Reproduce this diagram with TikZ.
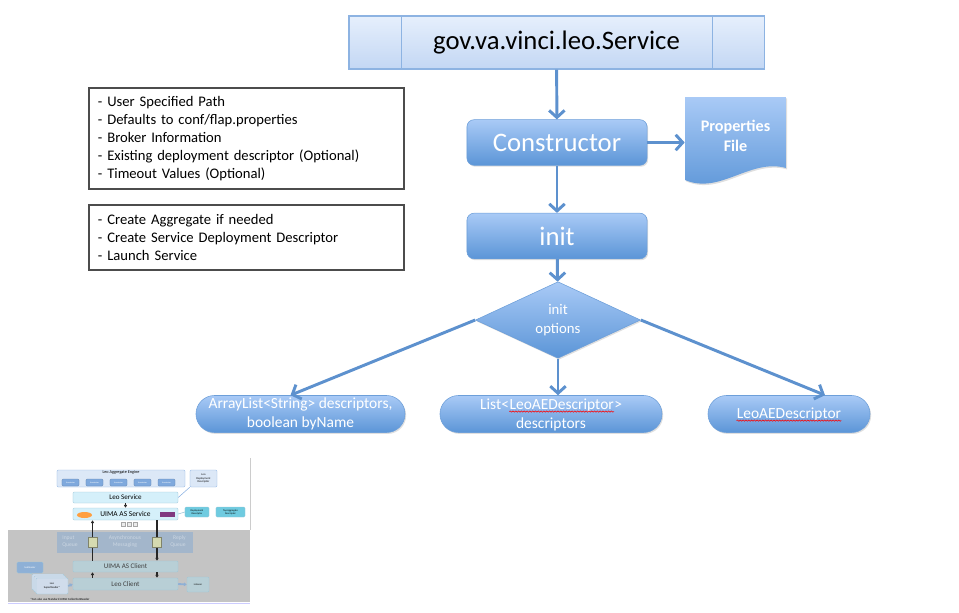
\documentclass[tikz,border=0pt]{standalone}
\usepackage{fontspec}
\setmainfont{Carlito}
\usetikzlibrary{arrows.meta,positioning,calc,shapes.geometric,shapes.misc,shadows,decorations.pathmorphing}

\definecolor{flowblue}{HTML}{5D91CE}
\definecolor{boxtop}{HTML}{A9CAF6}
\definecolor{boxbot}{HTML}{5B95D7}
\definecolor{boxline}{HTML}{6D9FD9}
\definecolor{titletop}{HTML}{E6EFFC}
\definecolor{titlebot}{HTML}{C3D7F4}
\definecolor{titleline}{HTML}{8DB3E2}
\definecolor{aggfill}{HTML}{DCE8F7}
\definecolor{annotfill}{HTML}{7FA9DD}
\definecolor{svcfill}{HTML}{D5F0FA}
\definecolor{svcline}{HTML}{9CC6D8}
\definecolor{descfill}{HTML}{6FCBE0}
\definecolor{msgfill}{HTML}{A3B6CB}
\definecolor{msgtext}{HTML}{CBD6E2}
\definecolor{clientfill}{HTML}{B8CFD6}
\definecolor{queuefill}{HTML}{D5DAB0}
\definecolor{readerfill}{HTML}{8EB0D6}
\definecolor{pagefill}{HTML}{D0DCEB}

\begin{document}
\begin{tikzpicture}[
  x=0.025cm,y=-0.025cm,
  >={Straight Barb[length=5pt,width=11pt]},
  flow/.style={->,line width=2.1pt,draw=flowblue},
  shade/.style={drop shadow={opacity=.25,shadow xshift=.8pt,shadow yshift=-1pt}},
  stagebox/.style={draw=boxline,rounded corners=5pt,top color=boxtop,bottom color=boxbot,text=white,minimum width=4.5cm,minimum height=1.14cm,font=\fontsize{19}{22}\selectfont,shade},
  notebox/.style={draw=black!70,thick,align=left,text width=7.425cm,inner xsep=.225cm,minimum width=7.875cm,font=\fontsize{10.4}{12.8}\selectfont},
  choice/.style={rounded rectangle,draw=boxline,top color=boxtop,bottom color=boxbot,text=white,minimum height=.925cm,align=center,inner sep=0pt,font=\fontsize{11}{13.5}\selectfont,shade},
  word/.style={text=white,inner sep=0pt,font=\fontsize{11}{13.5}\selectfont},
  spell/.style={red,line width=.4pt,decorate,decoration={snake,amplitude=.45pt,segment length=2pt}},
  tbox/.style={draw=black!25,line width=.3pt,rounded corners=.8pt,inner sep=0pt,align=center,font=\fontsize{5}{5.5}\selectfont},
  tarrow/.style={-{Latex[length=2pt,width=2.6pt]},line width=.9pt,black!85},
  feed/.style={-{Latex[length=2pt,width=3pt]},line width=1.3pt,readerfill}
]
  \useasboundingbox (0,0) rectangle (959,612);

  % main flow
  \node[draw=titleline,thick,top color=titletop,bottom color=titlebot,minimum width=10.375cm,minimum height=1.325cm,font=\fontsize{19}{22}\selectfont,shade] (title) at (556.5,42.5) {gov.va.vinci.leo.Service};
  \draw[titleline,thick] ([xshift=1.325cm]title.north west) -- ([xshift=1.325cm]title.south west);
  \draw[titleline,thick] ([xshift=-1.3cm]title.north east) -- ([xshift=-1.3cm]title.south east);

  \node[stagebox] (ctor) at (557,142.5) {Constructor};
  \node[stagebox] (init) at (557,236) {init};
  \node[diamond,draw=boxline,top color=boxtop,bottom color=boxbot,text=white,minimum width=4.125cm,minimum height=1.65cm,inner sep=0pt,align=center,font=\fontsize{10.5}{13.5}\selectfont,shade] (opts) at (558,320) {init\\options};

  \path[top color=boxtop,bottom color=boxbot,shade] (685,97) -- (786,97) -- (786,168) .. controls (750,158) and (720,195) .. (685,180) -- cycle;
  \node[text=white,font=\bfseries\fontsize{11.5}{14.5}\selectfont,align=center,minimum width=2.525cm,minimum height=2cm,inner sep=0pt] (props) at (735.5,136) {Properties\\File};

  \node[choice,minimum width=5.225cm] (desc1) at (300.5,414) {ArrayList<String> descriptors,\\boolean byName};
  \node[choice,minimum width=5.55cm] (desc2) at (551,414) {};
  \node[word,anchor=base] (desc2word) at (561.7,409) {LeoAEDescriptor};
  \node[word,anchor=base east] (desc2open) at (desc2word.base west) {List<};
  \node[word,anchor=base west] (desc2close) at (desc2word.base east) {>};
  \node[word,anchor=base] (desc2low) at (551,428) {descriptors};
  \node[choice,minimum width=4.05cm] (desc3) at (789,414) {};
  \node[word] (desc3word) at (desc3) {LeoAEDescriptor};
  \draw[spell] ([yshift=-1.8pt]desc2word.base west) -- ([yshift=-1.8pt]desc2word.base east);
  \draw[spell] ([yshift=-1.8pt]desc3word.base west) -- ([yshift=-1.8pt]desc3word.base east);

  \draw[flow] (title) -- (ctor);
  \draw[flow] (ctor) -- (init);
  \draw[flow] (init) -- (opts);
  \draw[flow] (ctor.east) -- (ctor.east -| props.west);
  \draw[flow] (opts.west) -- ([xshift=-.25cm]desc1.north);
  \draw[flow] (opts.south) -- (opts.south |- desc2.north);
  \draw[flow] (opts.east) -- ([xshift=.9cm]desc3.north);

  % notes
  \node[notebox,minimum height=2.525cm] (ctornote) at (246.5,138.5) {- User Specified Path\\- Defaults to conf/flap.properties\\- Broker Information\\- Existing deployment descriptor (Optional)\\- Timeout Values (Optional)};
  \node[notebox,minimum height=1.625cm] (initnote) at (246.5,237.5) {- Create Aggregate if needed\\- Create Service Deployment Descriptor\\- Launch Service};

  % architecture thumbnail
  \fill[black!23] (8,530) rectangle (250,602);
  \draw[black!20,line width=.4pt] (250,458) -- (250,530);
  \draw[blue!20,line width=.4pt] (8,603) -- (250,603);

  \node[tbox,fill=aggfill,draw=titleline,minimum width=3.2cm,minimum height=.425cm] (engine) at (121,478.5) {};
  \node[inner sep=.6pt,anchor=north,font=\fontsize{3}{3.4}\selectfont] (enginelbl) at (engine.north) {Leo Aggregate Engine};
  \foreach \i in {0,...,4}
    \node[tbox,fill=annotfill,draw=annotfill!80!black,minimum width=.425cm,minimum height=.175cm,text=white,font=\fontsize{1.5}{1.8}\selectfont] (annot\i) at ({70.5+24*\i},482.5) {Annotator};
  \node[tbox,fill=aggfill,draw=titleline,minimum width=.675cm,minimum height=.425cm,font=\fontsize{2}{2.4}\selectfont] (leodd) at (203.5,478.5) {Leo\\Deployment\\Descriptor};

  \node[tbox,fill=svcfill,draw=svcline,minimum width=2.625cm,minimum height=.275cm] (leosvc) at (125.5,497.5) {Leo Service};
  \node[tbox,fill=svcfill,draw=svcline,minimum width=2.625cm,minimum height=.3cm,font=\fontsize{5.3}{5.8}\selectfont] (uimasvc) at (125.5,514) {UIMA AS Service};
  \node[ellipse,fill=orange!75,minimum width=.375cm,minimum height=.15cm,inner sep=0pt] (uimaae) at (84.5,515) {};
  \node[fill=violet!55!gray,minimum width=.375cm,minimum height=.14cm,inner sep=0pt] (uimacc) at (167.5,514.5) {};
  \node[tbox,fill=descfill,draw=svcline,minimum width=.6cm,minimum height=.25cm,font=\fontsize{1.8}{2.1}\selectfont] (svcdd) at (197,512) {Deployment\\Descriptor};
  \node[tbox,fill=descfill,draw=svcline,minimum width=.725cm,minimum height=.25cm,font=\fontsize{1.8}{2.1}\selectfont] (topdd) at (230.5,512) {Top Aggregate\\Descriptor};
  \foreach \i in {0,1,2}
    \node[draw=black!35,fill=black!8,line width=.2pt,minimum size=.1cm,inner sep=0pt] (icon\i) at ({123+6*\i},524) {};

  \draw[titleline,line width=.4pt] (leosvc.east) -- (leodd.south west);
  \draw[svcline,line width=.4pt] (uimasvc.east) -- (svcdd.west);
  \draw[tarrow] (leosvc) -- (uimasvc);

  \node[fill=msgfill,minimum width=3.4cm,minimum height=.525cm,inner sep=0pt] (async) at (125,542.5) {};
  \node[text=msgtext,align=left,inner sep=0pt,font=\fontsize{4}{4.6}\selectfont] (inq) at (70,541.5) {Input\\Queue};
  \node[text=msgtext,align=center,inner sep=0pt,font=\fontsize{4}{4.6}\selectfont] (amsg) at (125,541.5) {Asynchronous\\Messaging};
  \node[text=msgtext,align=right,inner sep=0pt,font=\fontsize{4}{4.6}\selectfont] (replyq) at (178,541.5) {Reply\\Queue};

  \node[tbox,fill=clientfill,draw=svcline,minimum width=2.625cm,minimum height=.275cm,text=black!75] (asclient) at (125.5,566.5) {UIMA AS Client};
  \node[tbox,fill=clientfill,draw=svcline,minimum width=2.625cm,minimum height=.3cm,text=black!75] (leoclient) at (125.5,584) {Leo Client};
  \node[tbox,fill=clientfill,draw=svcline,minimum width=.55cm,minimum height=.375cm] (listener) at (198,584.5) {\fontsize{1.8}{2.1}\selectfont Listener};
  \node[tbox,fill=readerfill,draw=svcline,minimum width=.65cm,minimum height=.275cm,text=white] (subrd) at (30,567.5) {\fontsize{1.8}{2.1}\selectfont SubReader};
  \node[tbox,fill=pagefill,draw=svcline,minimum width=.8cm,minimum height=.4cm] (superc) at (48,582) {};
  \node[tbox,fill=pagefill,draw=svcline,minimum width=.8cm,minimum height=.4cm] (superb) at (50,584) {};
  \node[tbox,fill=pagefill,draw=svcline,minimum width=.8cm,minimum height=.4cm,font=\fontsize{2}{2.4}\selectfont] (super) at (52,586) {Leo\\SuperReader*};

  % queue links
  \coordinate (inlane) at (92.5,542);
  \coordinate (outlane) at (157,542);
  \draw[tarrow] (asclient.north -| inlane) -- (uimasvc.south -| inlane);
  \draw[tarrow] (uimasvc.south -| outlane) -- (asclient.north -| outlane);
  \draw[tarrow] (leoclient.north -| inlane) -- (asclient.south -| inlane);
  \draw[tarrow] (asclient.south -| outlane) -- (leoclient.north -| outlane);
  \node[fill=queuefill,draw=queuefill!60!black,line width=.3pt,minimum width=.225cm,minimum height=.25cm,inner sep=0pt] (inbox) at (inlane) {};
  \node[fill=queuefill,draw=queuefill!60!black,line width=.3pt,minimum width=.225cm,minimum height=.25cm,inner sep=0pt] (outbox) at (outlane) {};

  \draw[svcline,line width=.4pt] (subrd.south) -- (superc.north west);
  \draw[feed] (super.east) -- (leoclient.west);
  \draw[feed] (leoclient.east) -- (listener.west);
  \node[anchor=west,inner sep=0pt,font=\fontsize{2.2}{2.5}\selectfont] (fnote) at (30,599) {*Can also use Standard UIMA CollectionReader};
\end{tikzpicture}
\end{document}
